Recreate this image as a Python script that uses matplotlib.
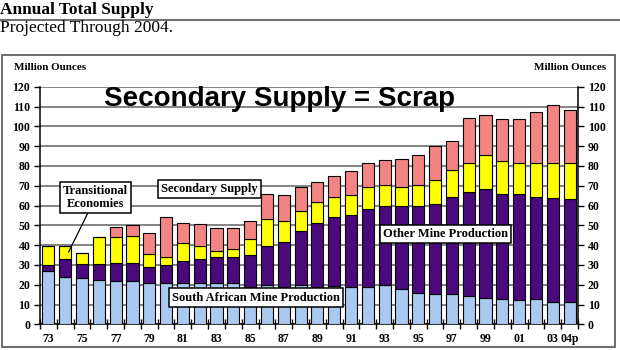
import matplotlib
matplotlib.use("Agg")
import matplotlib.pyplot as plt
import numpy as np

years = ["73", "74", "75", "76", "77", "78", "79", "80", "81", "82", "83", "84",
         "85", "86", "87", "88", "89", "90", "91", "92", "93", "94", "95", "96",
         "97", "98", "99", "00", "01", "02", "03", "04p"]

south_africa = [27.0, 24.0, 23.2, 22.4, 22.0, 22.0, 21.0, 21.0, 21.0, 21.0, 21.0, 20.7,
                19.0, 20.0, 19.0, 20.0, 19.0, 19.5, 18.6, 19.0, 20.0, 18.0, 16.0, 15.2,
                15.2, 14.4, 13.5, 13.0, 12.5, 13.0, 11.5, 11.5]
other_top = [30.0, 32.8, 30.3, 30.3, 31.0, 31.0, 29.0, 30.0, 32.0, 32.8, 34.2, 34.2,
             35.2, 39.7, 41.8, 47.3, 51.0, 54.0, 55.4, 58.3, 59.5, 60.0, 60.0, 60.8,
             64.5, 66.7, 68.4, 65.9, 65.9, 64.2, 63.9, 63.3]
transit_top = [39.7, 39.7, 35.9, 44.3, 44.3, 44.8, 35.5, 33.8, 41.2, 39.7, 37.0, 38.2,
               43.0, 53.0, 52.4, 57.4, 62.0, 64.5, 65.4, 69.3, 70.6, 69.3, 70.6, 73.0,
               77.7, 81.4, 85.3, 82.3, 81.4, 81.4, 81.4, 81.4]
total = [39.7, 39.7, 35.9, 44.3, 49.0, 50.0, 46.3, 54.4, 51.0, 50.5, 48.5, 48.8,
         52.4, 65.7, 65.2, 69.2, 72.0, 75.0, 77.2, 81.4, 83.0, 83.4, 85.3, 90.0,
         92.6, 104.4, 105.6, 103.5, 103.5, 107.3, 110.6, 108.0]

tick_labels = ["73", "75", "77", "79", "81", "83", "85", "87", "89", "91", "93",
               "95", "97", "99", "01", "03", "04p"]

sa = np.array(south_africa)
other = np.array(other_top) - sa
transit = np.array(transit_top) - np.array(other_top)
secondary = np.array(total) - np.array(transit_top)

W, H = 620, 350
fig = plt.figure(figsize=(6.2, 3.5), dpi=100)
serif = "Liberation Serif"


def fx(px):
    return px / W


def fy(py):
    return 1 - py / H


# header
fig.text(fx(0), fy(9.5), "Annual Total Supply", family=serif, fontweight="bold",
         fontsize=12.5, va="center", ha="left")
fig.add_artist(plt.Line2D([0, 1], [fy(19.5), fy(19.5)], color="#707070", lw=1.5))
fig.text(fx(0), fy(28), "Projected Through 2004.", family=serif, fontsize=12.5,
         va="center", ha="left")

# chart frame
frame = plt.Rectangle((fx(2), fy(347)), fx(613), fy(55) - fy(347), transform=fig.transFigure,
                      fill=False, edgecolor="#606060", lw=1.3)
fig.add_artist(frame)
fig.text(fx(14), fy(67), "Million Ounces", family=serif, fontweight="bold", fontsize=8,
         va="center", ha="left")
fig.text(fx(606), fy(67), "Million Ounces", family=serif, fontweight="bold", fontsize=8,
         va="center", ha="right")

ax = fig.add_axes([fx(40), fy(324.3), fx(578) - fx(40), fy(86.7) - fy(324.3)])
x = np.arange(len(years))
bw = 0.72
kw = dict(width=bw, edgecolor="black", linewidth=0.8, zorder=3)
ax.bar(x, sa, color="#a9c9f0", **kw)
ax.bar(x, other, bottom=sa, color="#4b0a7c", **kw)
ax.bar(x, transit, bottom=np.array(other_top), color="#ffff00", **kw)
ax.bar(x, secondary, bottom=np.array(transit_top), color="#f48484", **kw)

ax.set_xlim(-0.5, len(years) - 0.5)
ax.set_ylim(0, 120)
ax.set_yticks(range(0, 121, 10))
ax.yaxis.grid(True, color="#6e6e6e", lw=1.2, zorder=0)
ax.set_axisbelow(True)
ax.tick_params(axis="y", which="both", left=True, right=True, labelleft=True,
               labelright=True, direction="out", length=4, width=1, pad=3)
for lab in ax.get_yticklabels():
    lab.set_fontfamily(serif)
    lab.set_fontweight("bold")
    lab.set_fontsize(8.5)

label_pos = [years.index(t) for t in tick_labels]
ax.set_xticks(label_pos)
ax.set_xticklabels(tick_labels, family=serif, fontweight="bold", fontsize=8.5)
ax.tick_params(axis="x", which="major", length=0, pad=6)
ax.set_xticks(np.arange(-0.5, len(years), 1.0), minor=True)
ax.tick_params(axis="x", which="minor", direction="inout", length=7, width=1)
for s in ["left", "right", "bottom"]:
    ax.spines[s].set_color("black")
    ax.spines[s].set_linewidth(1.1)
ax.spines["top"].set_visible(False)

ax.text(0.445, 0.95, "Secondary Supply = Scrap", transform=ax.transAxes,
        family="Liberation Sans", fontweight="bold", fontsize=20,
        ha="center", va="center", zorder=5)

box = dict(boxstyle="square,pad=0.25", facecolor="white", edgecolor="black", lw=1.1)
ax.annotate("Transitional\nEconomies", xy=(1.2, 36.5), xytext=(2.8, 64),
            family=serif, fontweight="bold", fontsize=9, ha="center", va="center",
            linespacing=1.15, bbox=box, zorder=6,
            arrowprops=dict(arrowstyle="-", color="black", lw=0.9,
                            shrinkA=0, shrinkB=0))
ax.text(9.6, 68.3, "Secondary Supply", family=serif, fontweight="bold", fontsize=9,
        ha="center", va="center", bbox=box, zorder=6)
ax.text(12.35, 13.5, "South African Mine Production", family=serif, fontweight="bold",
        fontsize=9, ha="center", va="center", bbox=box, zorder=6)
ax.text(23.6, 45.5, "Other Mine Production", family=serif, fontweight="bold",
        fontsize=9, ha="center", va="center", bbox=box, zorder=6)

fig.savefig("out.png", dpi=100)
